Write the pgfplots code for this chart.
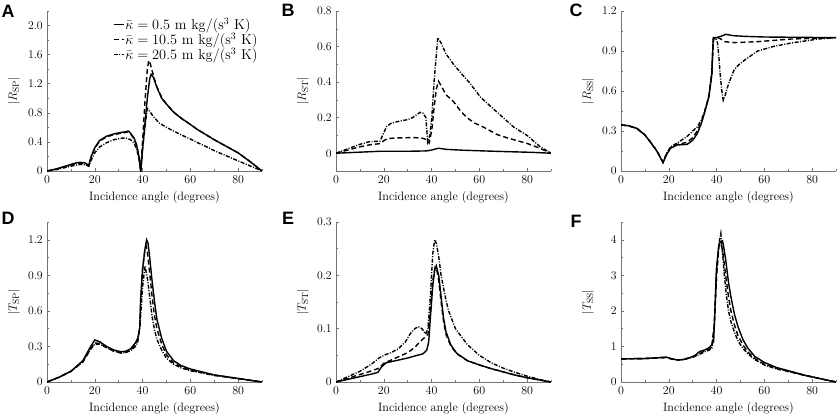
\documentclass[border=0pt]{standalone}
\usepackage[no-math]{fontspec}
\newfontfamily\panelfont{Liberation Sans}
\usepackage{pgfplots}
\pgfplotsset{compat=1.18}
\pgfplotsset{
  panel/.style={
    scale only axis, width=215bp, height=160bp, anchor=south west,
    xmin=0, xmax=90, xtick={0,20,40,60,80}, minor xtick={10,30,50,70,90},
    axis x line*=bottom, axis y line*=left,
    axis line style={-, draw=black!55, line width=0.6bp},
    tick align=inside, major tick length=3bp, minor tick length=2bp,
    tick style={draw=black!55, line width=0.5bp},
    tick label style={font=\fontsize{11.8}{13}\selectfont},
    xticklabel style={yshift=-1bp},
    xlabel={Incidence angle (degrees)},
    every axis x label/.style={at={([yshift=-26bp]axis description cs:0.5,0)}, anchor=center, font=\fontsize{12.2}{14}\selectfont},
    every axis y label/.style={at={([xshift=-33bp]axis description cs:0,0.5)}, anchor=center, rotate=90, font=\fontsize{12.2}{14}\selectfont},
  },
  s1/.style={black, line width=1.4bp, solid},
  s2/.style={black, line width=1.4bp, dash pattern=on 5bp off 3bp},
  s3/.style={black, line width=1.4bp, dash pattern=on 4bp off 1.5bp on 1bp off 1.5bp},
}
\begin{document}
\fontsize{12.2}{14}\selectfont
\begin{tikzpicture}
\useasboundingbox (0,0) rectangle (837bp,-416bp);
% ---------------- A
\begin{axis}[panel, at={(47bp,-171bp)}, ymin=0, ymax=2.2,
  ytick={0,0.4,0.8,1.2,1.6,2.0}, yticklabels={0,0.4,0.8,1.2,1.6,2.0},
  minor ytick={0.2,0.6,1.0,1.4,1.8,2.2},
  ylabel={$|R_{\mathrm{SP}}|$},
  legend style={draw=none, fill=none, at={(0.985,0.965)}, anchor=north east,
    font=\fontsize{14.5}{15}\selectfont, inner sep=0pt, row sep=0bp,
    nodes={inner xsep=1bp, inner ysep=0.8bp}},
  legend cell align=left,
  legend image code/.code={\draw[#1] (0bp,0bp) -- (10bp,0bp);}]
\addplot[s1] coordinates {(0,0)(4,0.03)(8,0.07)(12,0.11)(14,0.12)(16,0.11)(17.5,0.08)(18.5,0.2)(20,0.32)(22,0.42)(25,0.48)(28,0.51)(31,0.53)(33,0.54)(34,0.55)(35,0.52)(36.5,0.45)(37.5,0.36)(38.5,0.2)(39.3,0)(40,0.3)(41,0.65)(42,1.0)(43,1.27)(43.6,1.33)(44.5,1.29)(46,1.15)(48,1.0)(50,0.92)(53,0.81)(56,0.73)(60,0.64)(63,0.57)(67,0.49)(70,0.43)(75,0.34)(80,0.25)(85,0.13)(90,0)};
\addplot[s2] coordinates {(0,0)(4,0.025)(8,0.065)(12,0.1)(14,0.11)(16,0.1)(17.5,0.075)(18.5,0.19)(20,0.31)(22,0.41)(25,0.47)(28,0.5)(31,0.52)(33,0.53)(34,0.54)(35,0.51)(36.5,0.44)(37.5,0.35)(38.5,0.19)(39.2,0)(40,0.4)(41,0.95)(42,1.4)(42.6,1.52)(43.2,1.48)(44,1.38)(45,1.26)(46,1.16)(48,1.01)(50,0.92)(53,0.81)(56,0.73)(60,0.64)(63,0.57)(67,0.49)(70,0.43)(75,0.34)(80,0.25)(85,0.13)(90,0)};
\addplot[s3] coordinates {(0,0)(4,0.02)(8,0.05)(12,0.08)(14,0.09)(16,0.085)(17.5,0.065)(18.5,0.15)(20,0.25)(22,0.33)(25,0.39)(28,0.43)(31,0.45)(33,0.455)(35,0.43)(36.5,0.38)(37.5,0.3)(38.5,0.17)(39.2,0)(40,0.3)(41,0.6)(42,0.86)(43,0.82)(44.5,0.75)(47,0.66)(50,0.6)(53,0.55)(56,0.5)(60,0.44)(63,0.39)(67,0.33)(70,0.28)(75,0.21)(80,0.14)(85,0.07)(88,0.03)(90,0)};
\legend{$\bar{\kappa}=0.5\ \mathrm{m\ kg/(s^3\ K)}$,$\bar{\kappa}=10.5\ \mathrm{m\ kg/(s^3\ K)}$,$\bar{\kappa}=20.5\ \mathrm{m\ kg/(s^3\ K)}$}
\end{axis}
% ---------------- B
\begin{axis}[panel, at={(336bp,-171bp)}, ymin=-0.1, ymax=0.8,
  ytick={0,0.2,0.4,0.6,0.8}, yticklabels={0,0.2,0.4,0.6,0.8},
  minor ytick={-0.1,0.1,0.3,0.5,0.7},
  ylabel={$|R_{\mathrm{ST}}|$}]
\addplot[s1] coordinates {(0,0)(10,0.006)(18.4,0.011)(30,0.011)(38,0.013)(40,0.018)(42.9,0.028)(46,0.022)(53,0.017)(64,0.012)(74,0.008)(82,0.005)(90,0)};
\addplot[s2] coordinates {(0,0)(5,0.018)(10,0.036)(14,0.047)(18.4,0.054)(20,0.07)(21.5,0.082)(25,0.086)(32.4,0.088)(36,0.085)(38,0.077)(39,0.058)(40.1,0.13)(41,0.25)(42,0.36)(42.9,0.405)(44,0.38)(46,0.33)(49.2,0.29)(52,0.24)(54.8,0.2)(58,0.17)(62,0.145)(67.4,0.105)(72,0.085)(80,0.055)(85,0.03)(90,0)};
\addplot[s3] coordinates {(0,0)(5,0.025)(10,0.05)(14,0.065)(18.4,0.068)(19.5,0.1)(21.2,0.15)(23,0.168)(25.4,0.177)(30.3,0.19)(32,0.2)(35.2,0.23)(36.5,0.225)(37.6,0.2)(38.4,0.064)(39.3,0.1)(40.1,0.2)(41.1,0.41)(42.6,0.65)(44,0.62)(46,0.56)(49.2,0.5)(53,0.44)(56,0.395)(60.4,0.317)(65,0.26)(70,0.2)(74.3,0.148)(80,0.1)(85.5,0.036)(90,0)};
\end{axis}
% ---------------- C
\begin{axis}[panel, at={(621bp,-171bp)}, ymin=0, ymax=1.2,
  ytick={0,0.3,0.6,0.9,1.2}, yticklabels={0,0.3,0.6,0.9,1.2},
  minor ytick={0.15,0.45,0.75,1.05},
  ylabel={$|R_{\mathrm{SS}}|$}]
\addplot[s1] coordinates {(0,0.345)(3,0.34)(6.6,0.32)(10,0.27)(12.2,0.22)(15,0.15)(17.6,0.063)(19,0.12)(20.7,0.17)(23.5,0.195)(27.7,0.2)(30,0.23)(31.9,0.28)(33.5,0.35)(34.7,0.42)(36.8,0.56)(38,0.72)(38.4,0.9)(38.6,0.995)(40,1.0)(41.8,1.01)(43.9,1.025)(47,1.015)(51.6,1.01)(60,1.005)(90,1.0)};
\addplot[s2] coordinates {(0,0.345)(3,0.34)(6.6,0.32)(10,0.27)(12.2,0.22)(15,0.15)(17.6,0.065)(19,0.125)(20.7,0.175)(23.5,0.2)(27.7,0.215)(30,0.25)(31.9,0.3)(33.5,0.36)(34.7,0.42)(36.8,0.56)(38,0.72)(38.5,0.95)(39,1.0)(40.5,1.0)(41.8,0.99)(43.5,0.97)(47.4,0.963)(57.2,0.97)(71.3,0.99)(90,1.0)};
\addplot[s3] coordinates {(0,0.345)(3,0.34)(6.6,0.32)(10,0.27)(12.2,0.22)(15,0.15)(17.6,0.065)(19,0.13)(20.7,0.18)(23.5,0.21)(27.7,0.26)(30,0.3)(31.9,0.33)(33.5,0.38)(34.7,0.43)(36.8,0.56)(38,0.75)(38.7,1.0)(39.5,1.0)(40.4,0.96)(41,0.85)(41.5,0.73)(42.2,0.6)(42.8,0.53)(43.5,0.56)(44.6,0.63)(46,0.7)(47.4,0.76)(49.5,0.8)(51.6,0.83)(57.2,0.9)(64,0.935)(71.3,0.96)(82.6,0.99)(90,1.0)};
\end{axis}
% ---------------- D
\begin{axis}[panel, at={(47bp,-382bp)}, ymin=0, ymax=1.35,
  ytick={0,0.3,0.6,0.9,1.2}, yticklabels={0,0.3,0.6,0.9,1.2},
  minor ytick={0.15,0.45,0.75,1.05,1.35},
  ylabel={$|T_{\mathrm{SP}}|$}]
\addplot[s1] coordinates {(0,0)(5,0.04)(10,0.09)(15,0.18)(18,0.29)(20,0.355)(22,0.34)(25,0.3)(28,0.27)(31,0.255)(33,0.26)(35,0.28)(37,0.33)(38,0.37)(38.8,0.45)(39.2,0.7)(40,0.95)(41,1.12)(41.7,1.2)(42.3,1.17)(43,1.05)(44,0.85)(45,0.68)(46,0.53)(48,0.37)(50,0.26)(53,0.18)(56,0.14)(60,0.11)(64,0.09)(70,0.06)(75,0.045)(80,0.03)(85,0.015)(90,0)};
\addplot[s2] coordinates {(0,0)(5,0.04)(10,0.09)(15,0.17)(18,0.27)(20,0.33)(22,0.325)(25,0.29)(28,0.26)(31,0.245)(33,0.25)(35,0.27)(37,0.31)(38,0.35)(38.8,0.45)(39.3,0.7)(40,0.95)(41,1.12)(41.5,1.15)(42,1.1)(43,0.92)(44,0.72)(45,0.56)(46,0.45)(48,0.32)(50,0.23)(53,0.16)(56,0.13)(60,0.1)(64,0.085)(70,0.058)(75,0.044)(80,0.03)(85,0.015)(90,0)};
\addplot[s3] coordinates {(0,0)(5,0.04)(10,0.09)(15,0.17)(18,0.27)(20,0.32)(22,0.32)(25,0.29)(28,0.26)(31,0.245)(33,0.25)(35,0.265)(37,0.3)(38,0.34)(39,0.5)(40,0.8)(41,0.98)(42,0.88)(43,0.72)(44,0.55)(45,0.44)(46,0.36)(48,0.27)(50,0.2)(53,0.15)(56,0.12)(60,0.095)(64,0.08)(70,0.055)(75,0.042)(80,0.028)(85,0.014)(90,0)};
\end{axis}
% ---------------- E
\begin{axis}[panel, at={(336bp,-382bp)}, ymin=0, ymax=0.3,
  ytick={0,0.1,0.2,0.3}, yticklabels={0,0.1,0.2,0.3},
  minor ytick={0.05,0.15,0.25},
  ylabel={$|T_{\mathrm{ST}}|$}]
\addplot[s1] coordinates {(0,0)(5,0.005)(10,0.01)(15,0.015)(17.5,0.018)(19,0.028)(21,0.036)(25,0.04)(30,0.045)(34,0.05)(36.5,0.053)(38,0.06)(38.8,0.075)(39.5,0.12)(40.5,0.18)(41.3,0.21)(42,0.218)(43,0.2)(44,0.16)(45,0.12)(46,0.095)(48,0.07)(50.5,0.054)(55,0.04)(60,0.032)(65,0.025)(70,0.019)(75,0.013)(80,0.008)(85,0.004)(90,0)};
\addplot[s2] coordinates {(0,0)(5,0.007)(10,0.014)(15,0.021)(18,0.026)(20,0.035)(25,0.045)(30,0.055)(33,0.065)(35,0.075)(37.5,0.085)(38.5,0.09)(39.5,0.13)(40.5,0.19)(41.5,0.215)(42.2,0.21)(43,0.19)(44,0.15)(45,0.115)(46,0.09)(48,0.068)(50.5,0.053)(55,0.04)(60,0.032)(65,0.025)(70,0.019)(75,0.013)(80,0.008)(85,0.004)(90,0)};
\addplot[s3] coordinates {(0,0)(5,0.01)(10,0.02)(15,0.034)(18,0.045)(20,0.05)(23,0.055)(26,0.062)(29,0.075)(31,0.09)(33,0.1)(34.5,0.104)(36,0.1)(37.5,0.09)(38.5,0.1)(39.5,0.16)(40.5,0.24)(41.3,0.267)(42,0.26)(43,0.235)(44,0.2)(45.5,0.165)(47,0.135)(50,0.1)(55,0.07)(60,0.05)(65,0.036)(70,0.026)(75,0.018)(80,0.011)(85,0.005)(90,0)};
\end{axis}
% ---------------- F
\begin{axis}[panel, at={(621bp,-382bp)}, ymin=0, ymax=4.5,
  ytick={0,1,2,3,4}, yticklabels={0,1,2,3,4},
  minor ytick={0.5,1.5,2.5,3.5,4.5},
  ylabel={$|T_{\mathrm{SS}}|$}]
\addplot[s1] coordinates {(0,0.65)(10,0.66)(15,0.68)(19,0.7)(21,0.66)(23.5,0.62)(26,0.63)(29,0.69)(31,0.75)(33,0.86)(35,0.9)(37,0.97)(38,1.05)(38.8,1.15)(39.3,2.0)(39.9,3.16)(40.9,3.82)(41.6,3.95)(42.5,3.97)(43,3.8)(43.9,3.4)(45,2.8)(46,2.4)(47.5,1.9)(49,1.55)(51,1.2)(53,0.96)(56,0.72)(60,0.55)(65,0.41)(71,0.3)(77,0.19)(83,0.1)(90,0)};
\addplot[s2] coordinates {(0,0.65)(10,0.66)(15,0.68)(19,0.69)(21,0.65)(23.5,0.62)(26,0.63)(29,0.68)(31,0.73)(33,0.8)(35,0.88)(37,0.93)(38,1.0)(39,1.6)(40,3.0)(41,3.85)(41.8,3.9)(42.5,3.7)(43,3.45)(44,2.9)(45,2.4)(46,2.0)(47.5,1.6)(49,1.3)(51,1.05)(53,0.85)(56,0.66)(60,0.5)(65,0.39)(71,0.29)(77,0.19)(83,0.1)(90,0)};
\addplot[s3] coordinates {(0,0.65)(10,0.66)(15,0.68)(19,0.69)(21,0.65)(23.5,0.62)(26,0.63)(29,0.68)(31,0.72)(33,0.78)(35,0.85)(37,0.9)(38,0.95)(39,1.5)(40,3.0)(41,3.9)(41.8,4.18)(42.3,3.8)(43,3.2)(44,2.5)(45,2.0)(46,1.7)(47.5,1.4)(49,1.15)(51,0.95)(53,0.8)(56,0.63)(60,0.48)(65,0.37)(71,0.28)(77,0.18)(83,0.1)(90,0)};
\end{axis}
% panel letters
\begin{scope}[every node/.style={font=\panelfont\bfseries\fontsize{18}{18}\selectfont, anchor=center, inner sep=0pt}]
\node at (8bp,-11bp) {A};
\node at (288bp,-10bp) {B};
\node at (576bp,-10bp) {C};
\node at (8bp,-218bp) {D};
\node at (288bp,-218bp) {E};
\node at (576bp,-221bp) {F};
\end{scope}
\end{tikzpicture}
\end{document}
